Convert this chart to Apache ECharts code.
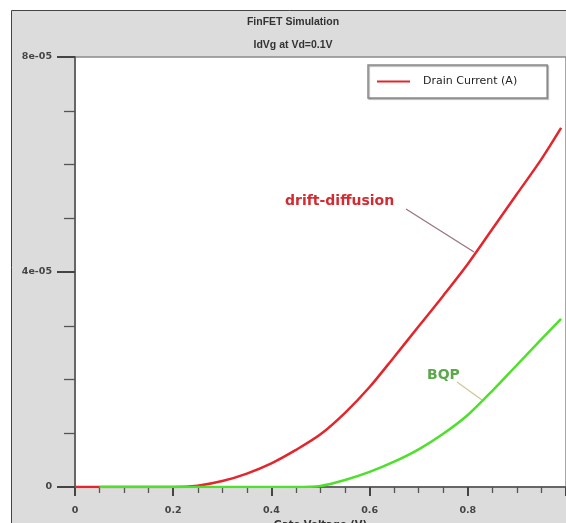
<!DOCTYPE html>
<html>
<head>
<meta charset="utf-8">
<script src="https://cdn.jsdelivr.net/npm/echarts@6/dist/echarts.min.js"></script>
<style>html,body{margin:0;padding:0;background:#fff;}#c{width:566px;height:523px;}</style>
</head>
<body>
<div id="c"></div>
<script>
const titleLines = ['FinFET Simulation', 'IdVg at Vd=0.1V'];
const xAxisName = 'Gate Voltage (V)';
const legendName = 'Drain Current (A)';
const yTickLabels = {0: '0', 4e-5: '4e-05', 8e-5: '8e-05'};
const xTickLabels = ['0', '0.2', '0.4', '0.6', '0.8'];
const gateVoltage = [0, 0.05, 0.1, 0.15, 0.2, 0.25, 0.3, 0.35, 0.4, 0.45, 0.5, 0.55, 0.6, 0.65, 0.7, 0.75, 0.8, 0.85, 0.9, 0.95, 0.99];
const driftDiffusion = [0, 0, 0, 0, 0, 0.25e-6, 1.1e-6, 2.5e-6, 4.4e-6, 6.9e-6, 9.8e-6, 1.38e-5, 1.86e-5, 2.42e-5, 2.99e-5, 3.56e-5, 4.15e-5, 4.80e-5, 5.45e-5, 6.10e-5, 6.68e-5];
const bqp = [null, 0, 0, 0, 0, 0, 0, 0, 0, 0, 0.2e-6, 1.3e-6, 2.8e-6, 4.7e-6, 7.0e-6, 9.9e-6, 1.34e-5, 1.79e-5, 2.27e-5, 2.75e-5, 3.13e-5];
const annotations = ['drift-diffusion', 'BQP'];

const pair = (xs, ys) => xs.map((x, i) => ys[i] === null ? null : [x, ys[i]]).filter(p => p);
const FONT = 'DejaVu Sans';
const chart = echarts.init(document.getElementById('c'));
chart.setOption({
  backgroundColor: '#fff',
  animation: false,
  title: [
    {text: titleLines[0], left: 288, top: 12, textAlign: 'center',
     textStyle: {fontFamily: 'Liberation Sans', fontSize: 10.5, fontWeight: 'bold', color: '#333'}},
    {text: titleLines[1], left: 288, top: 35, textAlign: 'center',
     textStyle: {fontFamily: 'Liberation Sans', fontSize: 10.5, fontWeight: 'bold', color: '#333'}}
  ],
  graphic: [
    {type: 'rect', z: -10, shape: {x: 11.5, y: 10.5, width: 570, height: 530},
     style: {fill: '#dcdcdc', stroke: '#444', lineWidth: 1}},
    {type: 'line', z: 100, shape: {x1: 406, y1: 209, x2: 474, y2: 252},
     style: {stroke: '#9a7480', lineWidth: 1.3}},
    {type: 'text', z: 100, left: 285, top: 194,
     style: {text: annotations[0], fill: '#d42a30', font: 'bold 14px "DejaVu Sans"'}},
    {type: 'line', z: 100, shape: {x1: 457, y1: 382, x2: 482, y2: 400},
     style: {stroke: '#cfc79a', lineWidth: 1.3}},
    {type: 'text', z: 100, left: 427, top: 368,
     style: {text: annotations[1], fill: '#5aa84a', font: 'bold 14px "DejaVu Sans"'}}
  ],
  legend: {
    left: 368, top: 65,
    data: [{name: legendName, icon: 'rect'}],
    itemWidth: 33, itemHeight: 2, itemGap: 0,
    padding: [11, 30, 11, 9],
    backgroundColor: '#fff', borderColor: '#8a8a8a', borderWidth: 1.5,
    shadowColor: 'rgba(0,0,0,0.35)', shadowOffsetX: 1, shadowOffsetY: 1, shadowBlur: 1,
    textStyle: {fontFamily: FONT, fontSize: 11, color: '#222', padding: [0, 0, 0, 8]}
  },
  grid: {left: 75, top: 57, right: 0, bottom: 36, show: true, backgroundColor: '#fff',
         borderColor: '#8a8a8a', borderWidth: 1.5, containLabel: false, outerBoundsMode: 'none'},
  xAxis: {
    type: 'value', min: 0, max: 1, interval: 0.2,
    name: xAxisName, nameLocation: 'middle', nameGap: 25,
    nameTextStyle: {fontFamily: FONT, fontSize: 10, fontWeight: 'bold', color: '#333'},
    axisLine: {onZero: false, lineStyle: {color: '#666', width: 2}},
    axisTick: {length: 9, lineStyle: {color: '#444', width: 2}},
    minorTick: {show: true, splitNumber: 4, length: 6, lineStyle: {color: '#555', width: 1.3}},
    splitLine: {show: false},
    axisLabel: {margin: 19, showMaxLabel: false, fontFamily: FONT, fontSize: 9.5, fontWeight: 'bold', color: '#444',
      formatter: v => xTickLabels[Math.round(v / 0.2)] ?? ''}
  },
  yAxis: {
    type: 'value', min: 0, max: 8e-5, interval: 4e-5,
    axisLine: {onZero: false, lineStyle: {color: '#666', width: 2}},
    axisTick: {length: 18, lineStyle: {color: '#444', width: 2}},
    minorTick: {show: true, splitNumber: 4, length: 11, lineStyle: {color: '#555', width: 1.3}},
    splitLine: {show: false},
    axisLabel: {margin: 23, fontFamily: FONT, fontSize: 9.5, fontWeight: 'bold', color: '#444',
      formatter: v => yTickLabels[v] ?? ''}
  },
  series: [
    {name: legendName, type: 'line', data: pair(gateVoltage, driftDiffusion), showSymbol: false,
     smooth: 0.3, lineStyle: {color: '#e3262b', width: 2.5}, itemStyle: {color: '#e3262b'}, z: 2},
    {name: 'BQP', type: 'line', data: pair(gateVoltage, bqp), showSymbol: false,
     smooth: 0.3, lineStyle: {color: '#4ee02a', width: 2.5}, itemStyle: {color: '#4ee02a'}, z: 3}
  ]
});
</script>
</body>
</html>
